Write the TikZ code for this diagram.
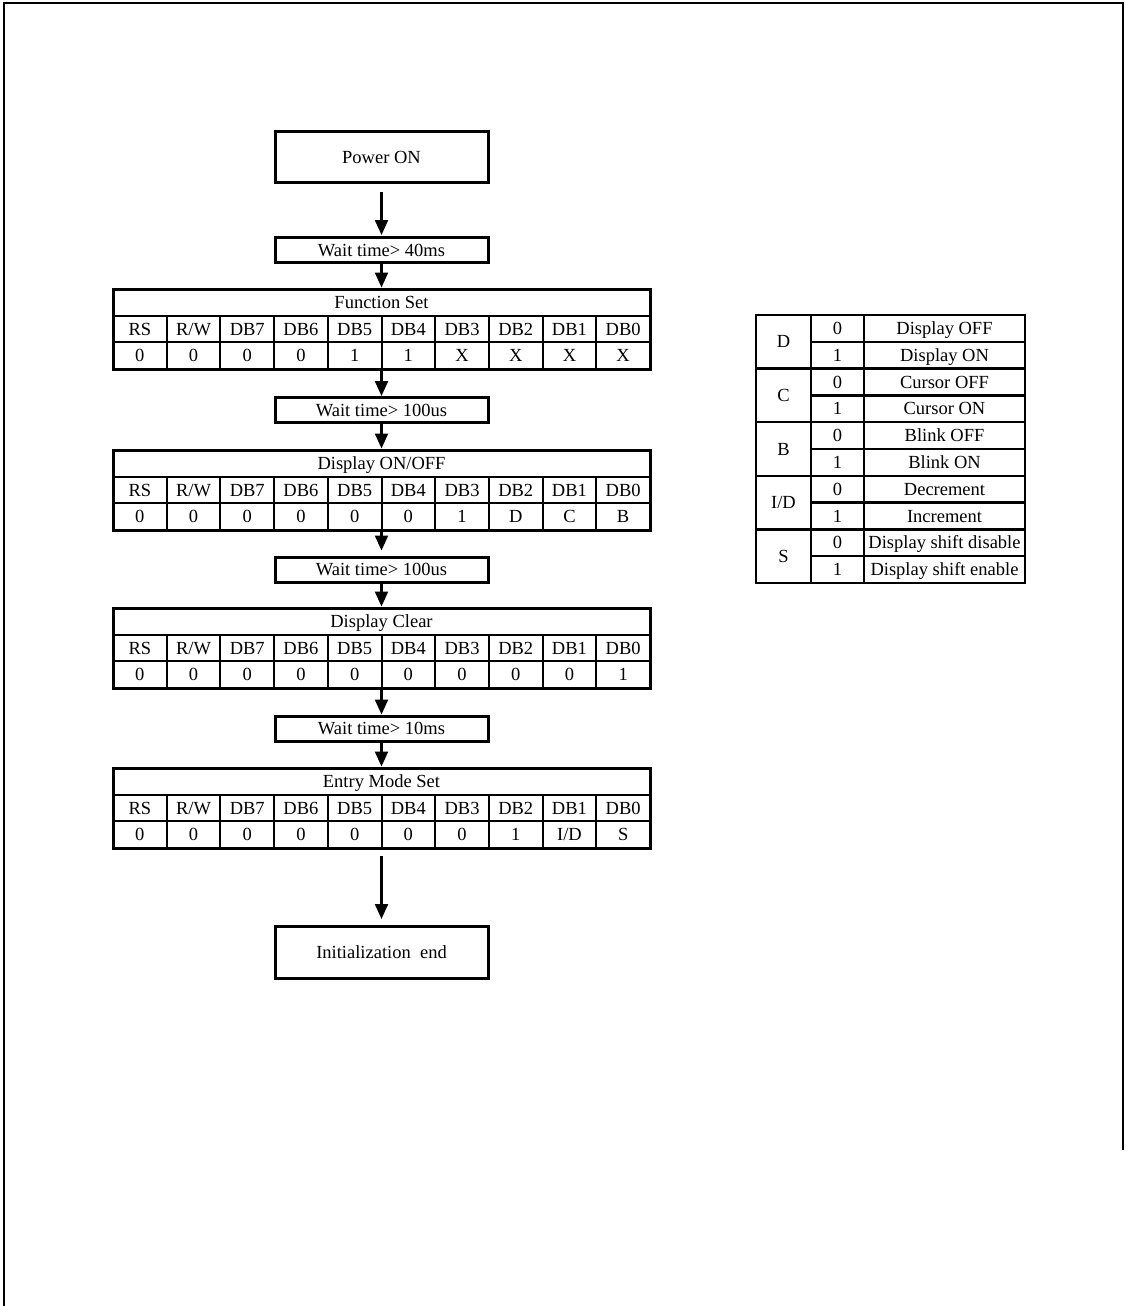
\documentclass[tikz,border=0pt]{standalone}
\usepackage{fontspec}
\setmainfont{Liberation Serif}
\usetikzlibrary{arrows.meta}
\tikzset{
  txt/.style={font=\fontsize{18.5}{20}\selectfont, inner sep=0pt, text height=12pt, text depth=0pt, anchor=center},
  flowbox/.style={txt, draw, line width=3pt, minimum width=213pt},
  tblbox/.style={draw, line width=3pt, minimum width=537pt, minimum height=80pt, inner sep=0pt},
  inner/.style={line width=2pt},
  legline/.style={line width=2.4pt},
  arr/.style={line width=2.2pt, -{Triangle[width=13pt,length=15pt]}},
}
\newcommand\cmdtbl[4]{%
  \node[tblbox] (#1) at (381.5,{#2+40}) {};
  \node[txt] (#1-title) at (381.5,{#2+13.33}) {#3};
  \draw[inner] (113,{#2+26.67}) -- (650,{#2+26.67});
  \draw[inner] (113,{#2+53.33}) -- (650,{#2+53.33});
  \foreach \k in {1,...,9} \draw[inner] ({113+53.7*\k},{#2+26.67}) -- ({113+53.7*\k},{#2+80});
  \foreach \h [count=\k from 0] in {RS,R/W,DB7,DB6,DB5,DB4,DB3,DB2,DB1,DB0}
    \node[txt] (#1-h\k) at ({113+53.7*\k+26.85},{#2+40}) {\h};
  \foreach \v [count=\k from 0] in {#4}
    \node[txt] (#1-v\k) at ({113+53.7*\k+26.85},{#2+66.67}) {\v};
}
\begin{document}
\begin{tikzpicture}[x=1pt,y=-1pt]
\useasboundingbox (0,0) rectangle (1125,1306);
% page frame
\draw[line width=2.8pt] (4,1306) -- (4,3) -- (1123,3) -- (1123,1150);

% flow boxes
\node[flowbox, minimum height=51pt] (pon) at (381.5,157) {Power ON};
\node[flowbox, minimum height=25pt] (w1) at (381.5,250) {Wait time> 40ms};
\cmdtbl{fs}{289}{Function Set}{0,0,0,0,1,1,X,X,X,X}
\node[flowbox, minimum height=25pt] (w2) at (381.5,410) {Wait time> 100us};
\cmdtbl{don}{450}{Display ON/OFF}{0,0,0,0,0,0,1,D,C,B}
\node[flowbox, minimum height=25pt] (w3) at (381.5,569.5) {Wait time> 100us};
\cmdtbl{dcl}{608}{Display Clear}{0,0,0,0,0,0,0,0,0,1}
\node[flowbox, minimum height=25pt] (w4) at (381.5,728.5) {Wait time> 10ms};
\cmdtbl{ems}{768}{Entry Mode Set}{0,0,0,0,0,0,0,1,I/D,S}
\node[flowbox, minimum height=52pt] (iend) at (381.5,952.5) {Initialization\ \ end};

% connectors
\draw[arr, shorten <=8pt, shorten >=1pt] (pon) -- (w1);
\draw[arr] (w1) -- (fs);
\draw[arr] (fs) -- (w2);
\draw[arr] (w2) -- (don);
\draw[arr, shorten >=5pt] (don) -- (w3);
\draw[arr] (w3) -- (dcl);
\draw[arr] (dcl) -- (w4);
\draw[arr] (w4) -- (ems);
\draw[arr, shorten <=6pt, shorten >=6pt] (ems) -- (iend);

% legend table
\node[draw, legline, minimum width=269pt, minimum height=268pt, inner sep=0pt] (leg) at (890.5,449) {};
\draw[legline] (811,315) -- (811,583);
\draw[legline] (864,315) -- (864,583);
\foreach \r in {1,3,5,7,9} \draw[legline] (811,{315+26.8*\r}) -- (1025,{315+26.8*\r});
\foreach \r in {2,4,6,8} \draw[legline] (756,{315+26.8*\r}) -- (1025,{315+26.8*\r});
\foreach \g [count=\k from 0] in {D,C,B,I/D,S}
  \node[txt] (leg-g\k) at (783.5,{315+53.6*\k+26.8}) {\g};
\foreach \val/\desc [count=\k from 0] in {0/Display OFF,1/Display ON,0/Cursor OFF,1/Cursor ON,0/Blink OFF,1/Blink ON,0/Decrement,1/Increment,0/Display shift disable,1/Display shift enable}{
  \node[txt] (leg-v\k) at (837.5,{315+26.8*\k+13.4}) {\val};
  \node[txt] (leg-d\k) at (944.5,{315+26.8*\k+13.4}) {\desc};
}
\end{tikzpicture}
\end{document}
